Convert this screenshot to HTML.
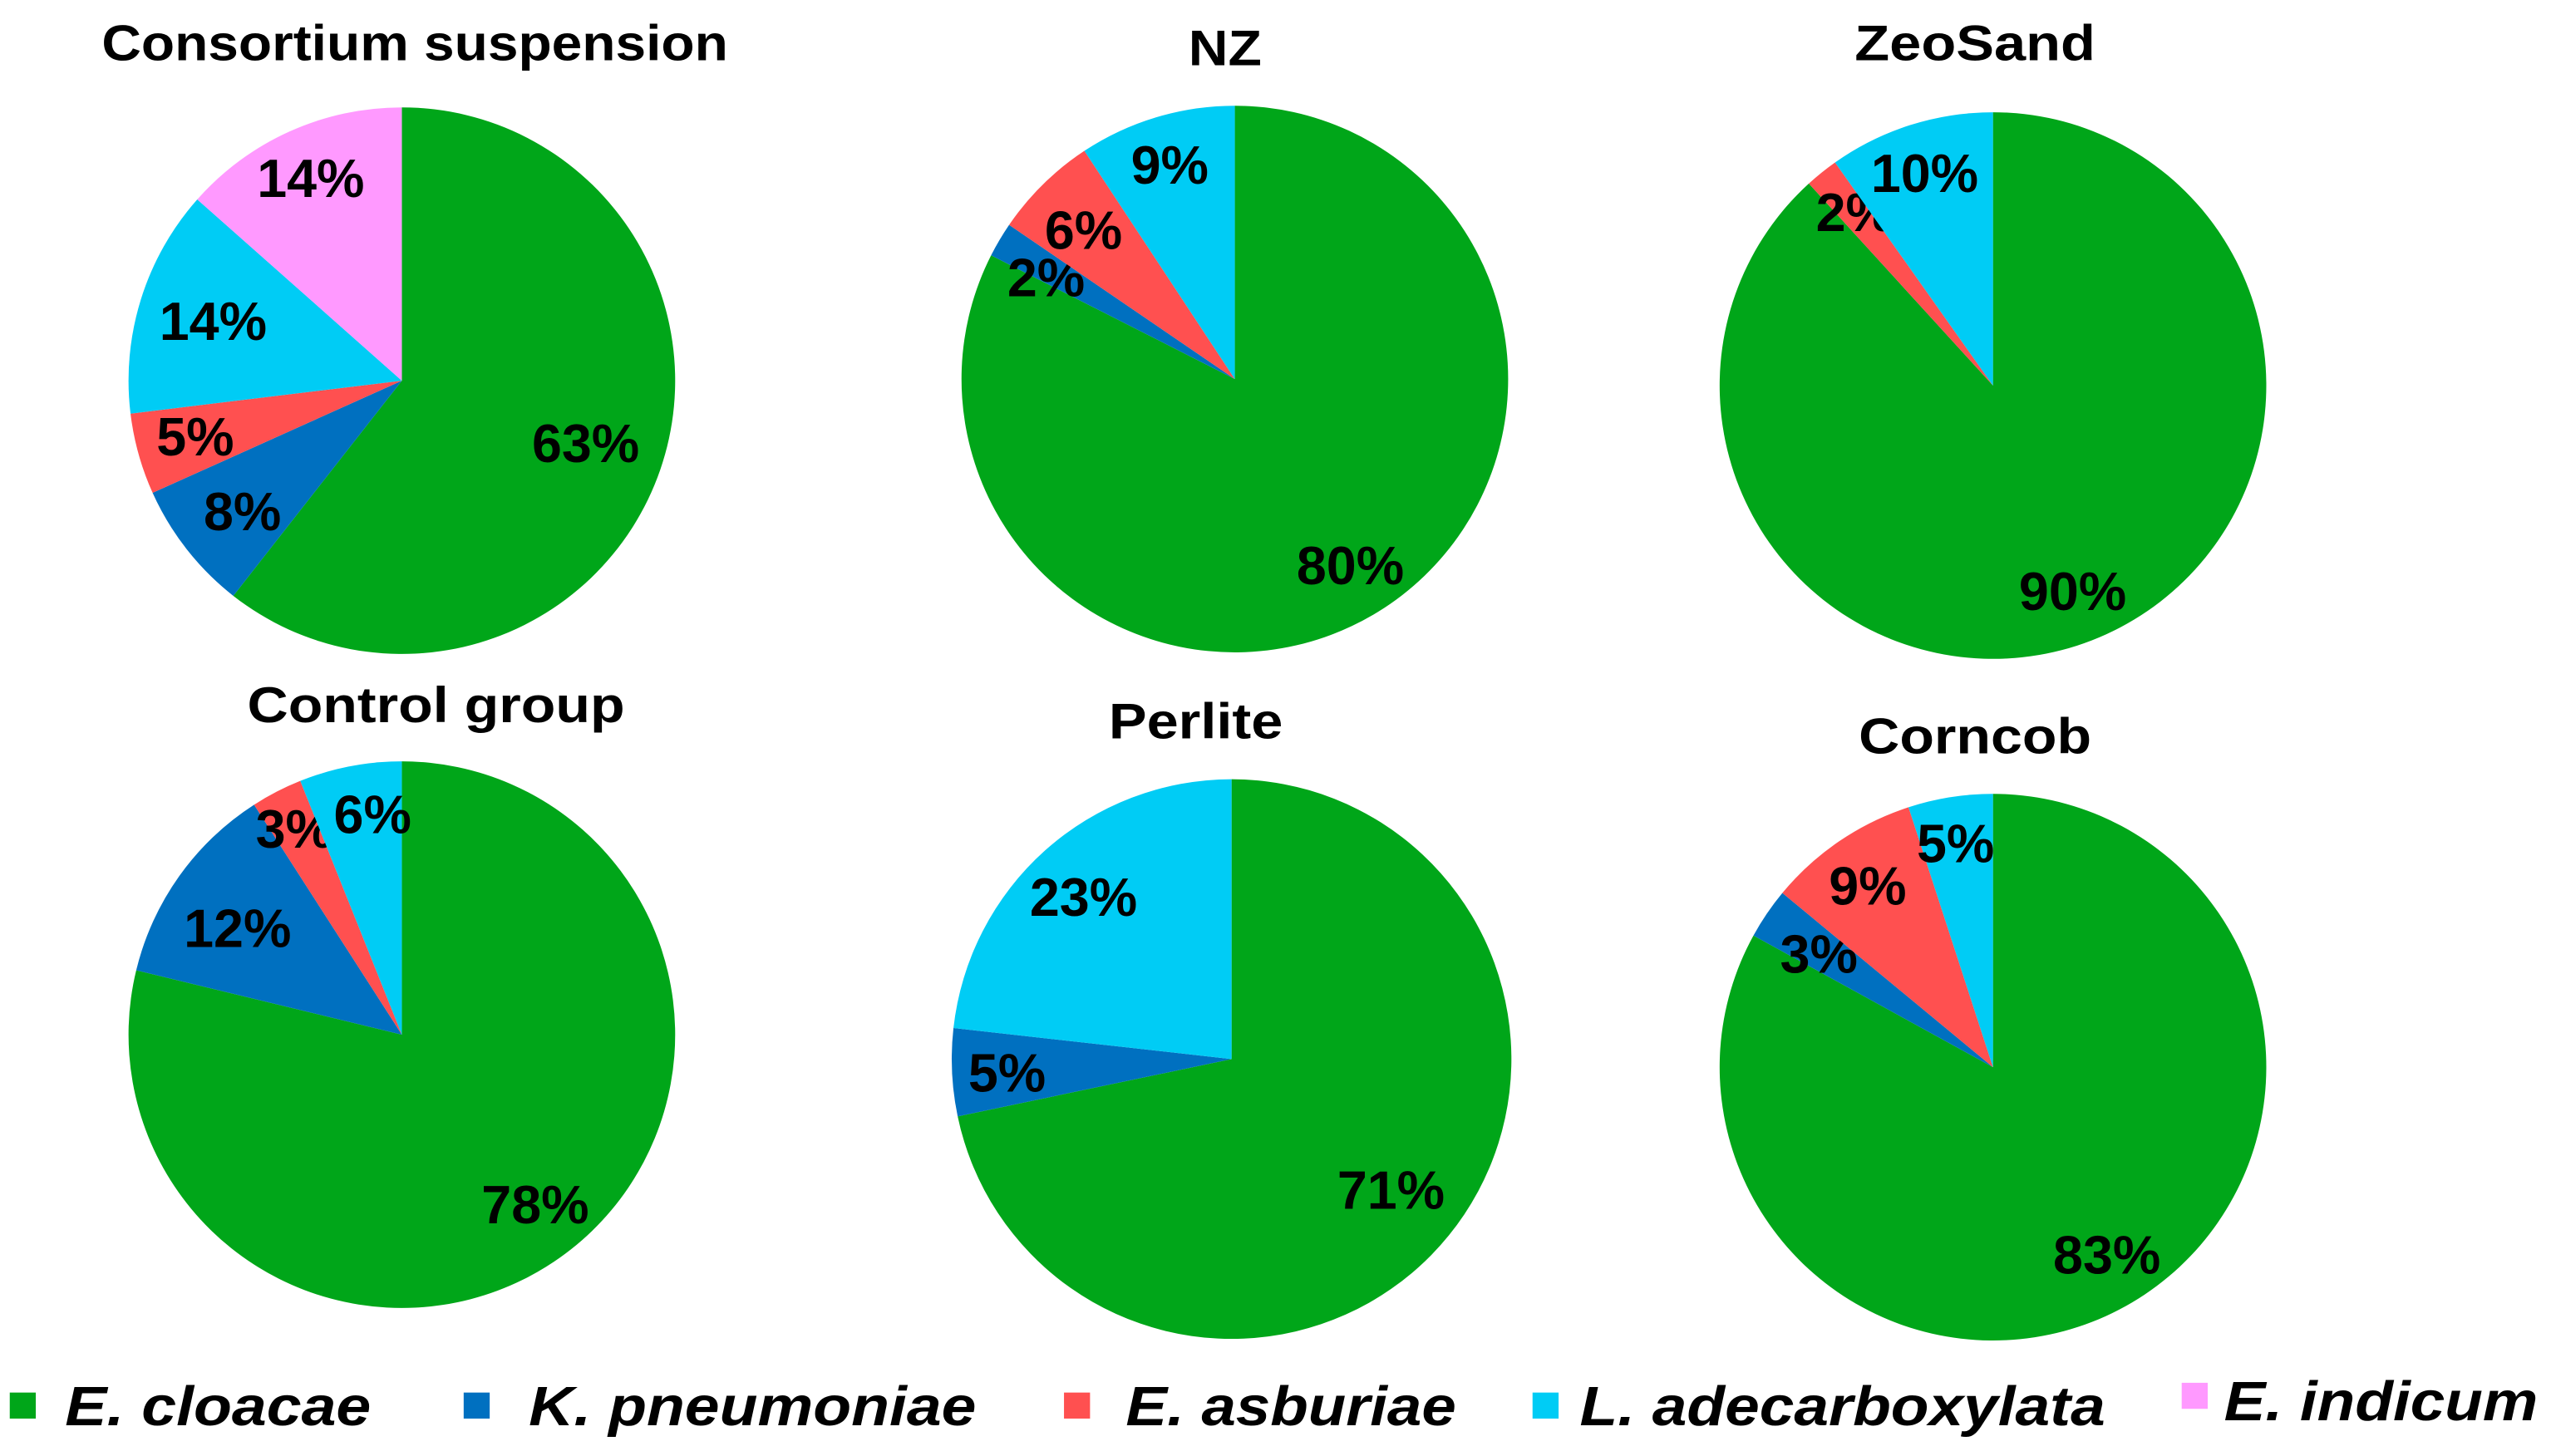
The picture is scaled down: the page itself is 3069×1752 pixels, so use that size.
<!DOCTYPE html>
<html><head><meta charset="utf-8"><style>
html,body{margin:0;padding:0;background:#fff}
svg{display:block}
text{font-family:"Liberation Sans",Arial,sans-serif;font-weight:bold;fill:#000}
</style></head><body>
<svg id="chart" width="3069" height="1752" viewBox="0 0 1568 895" preserveAspectRatio="none" xmlns="http://www.w3.org/2000/svg"></svg>
<script>
const species = ["E. cloacae","K. pneumoniae","E. asburiae","L. adecarboxylata","E. indicum"];
const colors = ["#00A619","#0070C0","#FF5050","#00CCF5","#FF99FF"];
const panels = ["Consortium suspension","NZ","ZeoSand","Control group","Perlite","Corncob"];
const consortiumValues = [63,8,5,14,14];
const nzValues = [80,2,6,9,0];
const zeoValues = [90,0,2,10,0];
const controlValues = [78,12,3,6,0];
const perliteValues = [71,5,0,23,0];
const corncobValues = [83,3,9,5,0];
const allValues = [consortiumValues,nzValues,zeoValues,controlValues,perliteValues,corncobValues];

// layout (not data)
const geom = [[247,234,168],[759,233,168],[1225,237,168],[247,636,168],[757,651,172],[1225,656,168]];
const titlePos = [[255,37],[753,40],[1214,37],[268,444],[735,454],[1214,463]];
const titleLen = [385,45,148,232,107,143];
const labelPos = [
  [[360,284],[149,326],[120,280],[131,209],[191,121]],
  [[830,359],[643,182],[666,153],[719,113],null],
  [[1274,375],null,[1140,142],[1183,118],null],
  [[329,752],[146,582],[181,521],[229,512],null],
  [[855,743],[619,671],null,[666,563],null],
  [[1295,783],[1118,598],[1148,556],[1202,530],null]
];
const NS="http://www.w3.org/2000/svg";
const svg=document.getElementById('chart');
function mk(t,a){const e=document.createElementNS(NS,t);for(const k in a)e.setAttribute(k,a[k]);svg.appendChild(e);return e;}
function pt(cx,cy,r,f){const a=f*2*Math.PI;return [cx+r*Math.sin(a),cy-r*Math.cos(a)];}
allValues.forEach((vals,p)=>{
  const [cx,cy,r]=geom[p];
  const total=vals.reduce((a,b)=>a+b,0);
  let acc=0;
  vals.forEach((v,i)=>{
    if(v<=0)return;
    const f0=acc/total, f1=(acc+v)/total; acc+=v;
    const [x0,y0]=pt(cx,cy,r,f0),[x1,y1]=pt(cx,cy,r,f1);
    const large=(f1-f0)>0.5?1:0;
    const path=mk('path',{d:`M${cx},${cy}L${x0},${y0}A${r},${r} 0 ${large} 1 ${x1},${y1}Z`,fill:colors[i]});
    
    
    const lp=labelPos[p][i];
    if(lp){
      const t=mk('text',{x:lp[0],y:lp[1],'font-size':33,'text-anchor':'middle'});
      t.textContent=v+'%';
      
      
    }
  });
  const tt=mk('text',{x:titlePos[p][0],y:titlePos[p][1],'font-size':31,'text-anchor':'middle',textLength:titleLen[p],lengthAdjust:'spacingAndGlyphs'});
  tt.textContent=panels[p];
  
  
});
const legSq=[[6,856],[285,856],[654,856],[942,856],[1341,850]];
const legTx=[[40,876],[325,876],[692,876],[971,876],[1367,873]];
const legLen=[188,275,203,323,193];
species.forEach((s,i)=>{
  const r=mk('rect',{x:legSq[i][0],y:legSq[i][1],width:16,height:16,fill:colors[i]});
  
  
  const t=mk('text',{x:legTx[i][0],y:legTx[i][1],'font-size':34,'font-style':'italic',textLength:legLen[i],lengthAdjust:'spacingAndGlyphs'});
  t.textContent=s;
  
  
});
</script>
</body></html>
